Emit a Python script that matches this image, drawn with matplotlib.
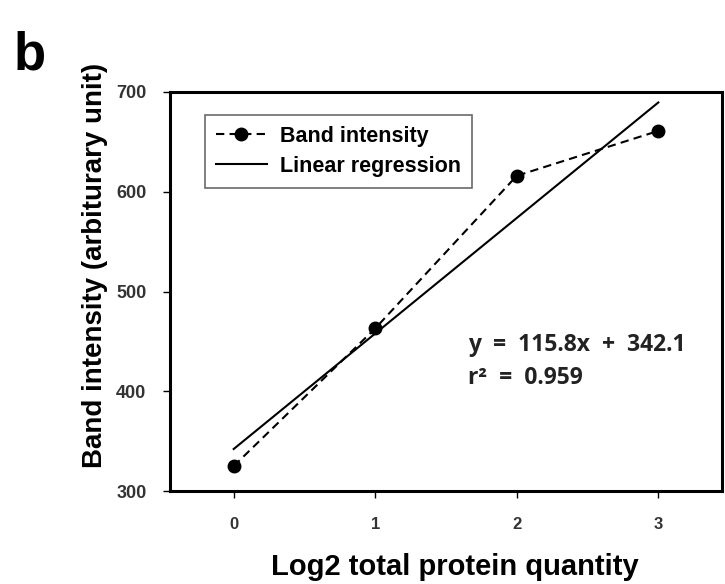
import matplotlib.pyplot as plt
import numpy as np

plt.rcParams["font.family"] = ["Liberation Sans", "DejaVu Sans"]
plt.rcParams["font.weight"] = "bold"

log2_quantity = [0, 1, 2, 3]
band_intensity = [325, 463, 616, 661]
slope, intercept = 115.8, 342.1
r_squared = 0.959
y_ticks = [300, 400, 500, 600, 700]

fig = plt.figure(figsize=(7.25, 5.84), dpi=100)
ax = fig.add_axes([170 / 725, 1 - 491 / 584, 552 / 725, 399 / 584])

x = np.array(log2_quantity)
ax.plot(x, band_intensity, color="black", linestyle=(0, (4, 2.5)), linewidth=1.5,
        marker="o", markersize=9, label="Band intensity")
ax.plot(x, slope * x + intercept, color="black", linewidth=1.5, label="Linear regression")

ax.set_xlim(-0.45, 3.45)
ax.set_ylim(300, 700)
ax.set_xticks(log2_quantity)
ax.set_yticks(y_ticks)
ax.tick_params(direction="out", length=5, width=1)
ax.tick_params(axis="x", labelsize=12, pad=14)
ax.tick_params(axis="y", labelsize=13, pad=12)
for lbl in ax.get_xticklabels() + ax.get_yticklabels():
    lbl.set_fontweight("bold")
    lbl.set_color("#333333")
for spine in ax.spines.values():
    spine.set_linewidth(2.2)

ax.set_xlabel("Log2 total protein quantity", fontsize=21, fontweight="bold")
ax.xaxis.set_label_coords(0.516, -0.155)
ax.set_ylabel("Band intensity (arbiturary unit)", fontsize=20, fontweight="bold")
ax.yaxis.set_label_coords(-0.112, 0.566)

leg = ax.legend(loc="upper left", bbox_to_anchor=(0.063, 0.942), fontsize=15.5,
                frameon=True, fancybox=False, edgecolor="#444444",
                handlelength=2.4, handletextpad=0.6, borderpad=0.5, labelspacing=0.42,
                borderaxespad=0)
leg.get_frame().set_linewidth(1.2)
for t in leg.get_texts():
    t.set_fontweight("bold")

eq_font = ["Open Sans", "DejaVu Sans"]
ax.text(1.655, 446, f"y  =  {slope}x  +  {intercept}", fontsize=16.5, fontweight="bold",
        family=eq_font, color="#222222", va="center")
ax.text(1.655, 413, f"r\u00b2  =  {r_squared}", fontsize=16.5, fontweight="bold",
        family=eq_font, color="#222222", va="center")

fig.text(14 / 725, 1 - 56 / 584, "b", fontsize=38, fontweight="bold", va="center")

fig.savefig("out.png", dpi=100)
